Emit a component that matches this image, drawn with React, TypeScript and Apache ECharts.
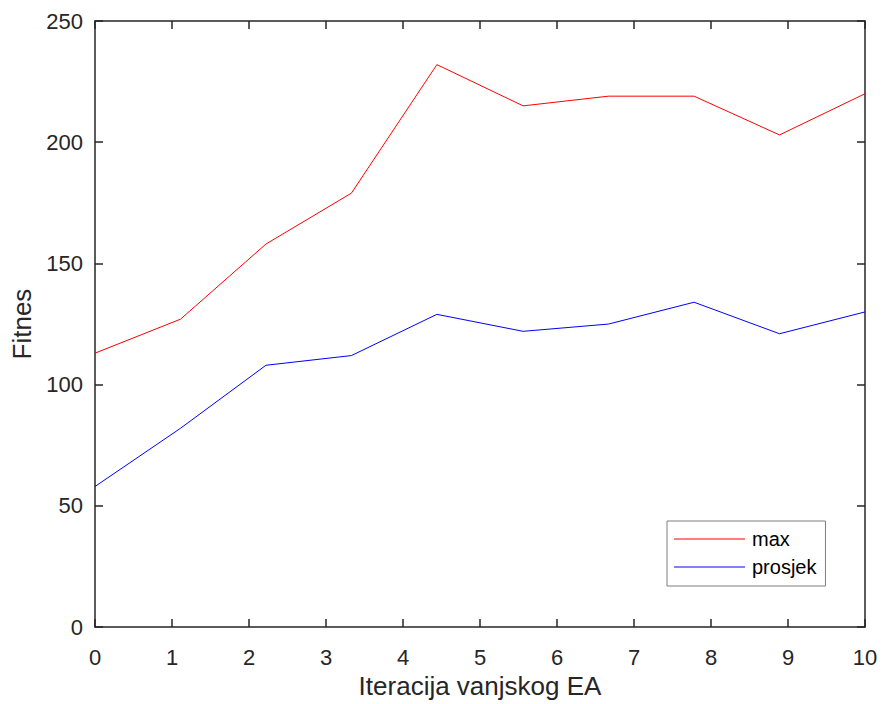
import React, { useEffect, useRef } from "react";
import * as echarts from "echarts";

const xValues = [0, 1.11, 2.22, 3.33, 4.44, 5.56, 6.67, 7.78, 8.89, 10];
const maxValues = [113, 127, 158, 179, 232, 215, 219, 219, 203, 220];
const avgValues = [58, 82, 108, 112, 129, 122, 125, 134, 121, 130];
const seriesNames = ["max", "prosjek"];
const xTitle = "Iteracija vanjskog EA";
const yTitle = "Fitnes";

const axisColor = "#262626";
const font = "Liberation Sans, Arial, Helvetica, sans-serif";

export default function App() {
  const ref = useRef<HTMLDivElement>(null);
  useEffect(() => {
    if (!ref.current) return;
    const chart = echarts.init(ref.current, undefined, { renderer: "svg" });
    const baseAxis = {
      axisLine: { show: true, onZero: false, lineStyle: { color: axisColor, width: 1.5 } },
      axisTick: { show: true, inside: true, length: 8, lineStyle: { color: axisColor, width: 1.5 } },
      splitLine: { show: false },
    };
    chart.setOption({
      animation: false,
      backgroundColor: "#ffffff",
      textStyle: { fontFamily: font },
      grid: { left: 95, right: 17, top: 21, bottom: 74, containLabel: false },
      legend: {
        data: seriesNames.map((n) => ({ name: n, icon: "rect" })),
        orient: "vertical",
        left: 667,
        top: 521,
        backgroundColor: "#ffffff",
        borderColor: "#7f7f7f",
        borderWidth: 1,
        padding: [8, 9, 9, 7],
        itemWidth: 71,
        itemHeight: 1.2,
        itemGap: 8,
        textStyle: { fontFamily: font, fontSize: 20, color: "#000000", padding: [0, 0, 0, 2] },
      },
      xAxis: [
        {
          ...baseAxis,
          type: "value",
          min: 0,
          max: 10,
          interval: 1,
          position: "bottom",
          name: xTitle,
          nameLocation: "middle",
          nameGap: 38,
          nameTextStyle: { fontFamily: font, fontSize: 26, color: axisColor },
          axisLabel: { color: axisColor, fontSize: 22, fontFamily: font, margin: 19 },
        },
        {
          ...baseAxis,
          type: "value",
          min: 0,
          max: 10,
          interval: 1,
          position: "top",
          axisLabel: { show: false },
        },
      ],
      yAxis: [
        {
          ...baseAxis,
          type: "value",
          min: 0,
          max: 250,
          interval: 50,
          position: "left",
          name: yTitle,
          nameLocation: "middle",
          nameGap: 58,
          nameTextStyle: { fontFamily: font, fontSize: 26, color: axisColor },
          axisLabel: { color: axisColor, fontSize: 22, fontFamily: font, margin: 12 },
        },
        {
          ...baseAxis,
          type: "value",
          min: 0,
          max: 250,
          interval: 50,
          position: "right",
          axisLabel: { show: false },
        },
      ],
      series: [
        {
          name: seriesNames[0],
          type: "line",
          data: xValues.map((x, i) => [x, maxValues[i]]),
          symbol: "none",
          lineStyle: { color: "#ff0000", width: 1 },
          itemStyle: { color: "#ff0000" },
          xAxisIndex: 0,
          yAxisIndex: 0,
        },
        {
          name: seriesNames[1],
          type: "line",
          data: xValues.map((x, i) => [x, avgValues[i]]),
          symbol: "none",
          lineStyle: { color: "#0000ff", width: 1 },
          itemStyle: { color: "#0000ff" },
          xAxisIndex: 0,
          yAxisIndex: 0,
        },
      ],
    });
    return () => chart.dispose();
  }, []);
  return <div ref={ref} style={{ width: 882, height: 704, position: "absolute", left: 0, top: 0 }} />;
}
